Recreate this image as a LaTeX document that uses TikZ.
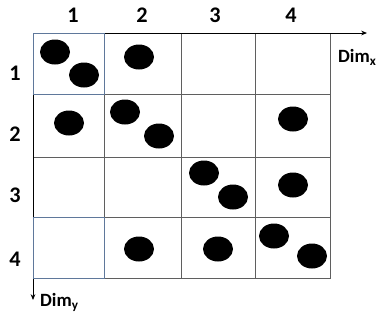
\documentclass[tikz,border=0pt]{standalone}
\usepackage{fontspec}
\setmainfont{Carlito}
\usepackage{tikz}
\usetikzlibrary{arrows.meta,positioning}
\definecolor{gridgray}{RGB}{95,95,95}
\definecolor{cellblue}{RGB}{95,120,155}
\tikzset{
  lbl/.style={font=\fontsize{19}{22}\selectfont\bfseries},
  dimlbl/.style={font=\fontsize{16}{19}\selectfont\bfseries},
  pt/.style={fill=black}
}

\begin{document}
\begin{tikzpicture}[x=0.03cm, y=-0.03cm]
  \useasboundingbox (0,0) rectangle (382,322);

  % Grid
  \draw[gridgray, line width=0.6pt] (33,33) rectangle (330,278);
  \foreach \gx in {104,181,255}
    \draw[gridgray, line width=0.6pt] (\gx,33) -- (\gx,278);
  \foreach \gy in {94,157,217}
    \draw[gridgray, line width=0.6pt] (33,\gy) -- (330,\gy);

  % Axes
  \coordinate (O) at (33,33);
  \coordinate (xend) at (367,33);
  \coordinate (yend) at (33,300);
  \draw[-{Stealth[length=5pt,width=4pt]}, line width=0.7pt] (O) -- (xend);
  \draw[-{Stealth[length=5pt,width=4pt]}, line width=0.7pt] (O) -- (yend);

  % highlighted cells
  \draw[cellblue, line width=0.8pt] (33,33) rectangle (104,94);
  \draw[cellblue, line width=0.8pt] (33,217) rectangle (104,278);

  % Labels
  \node[lbl] (c1) at (73,15) {1};
  \node[lbl] (c2) at (142,15) {2};
  \node[lbl] (c3) at (215,15) {3};
  \node[lbl] (c4) at (291,15) {4};
  \node[lbl] (r1) at (15,73) {1};
  \node[lbl] (r2) at (15,134) {2};
  \node[lbl] (r3) at (15,195) {3};
  \node[lbl] (r4) at (15,259) {4};
  \node[dimlbl, anchor=west] (dimx) at (334,57) {Dim\textsubscript{x}};
  \node[dimlbl, anchor=west] (dimy) at (36,302) {Dim\textsubscript{y}};

  % Points
  \foreach \px/\py in {55/52, 84/75, 139/57, 69/123, 125/112, 159/136,
                       293/119, 204/173, 233/197, 293/185, 139/249,
                       218/249, 274/236, 312/256}
    \fill[pt] (\px,\py) ellipse (15 and 12.5);
\end{tikzpicture}
\end{document}
